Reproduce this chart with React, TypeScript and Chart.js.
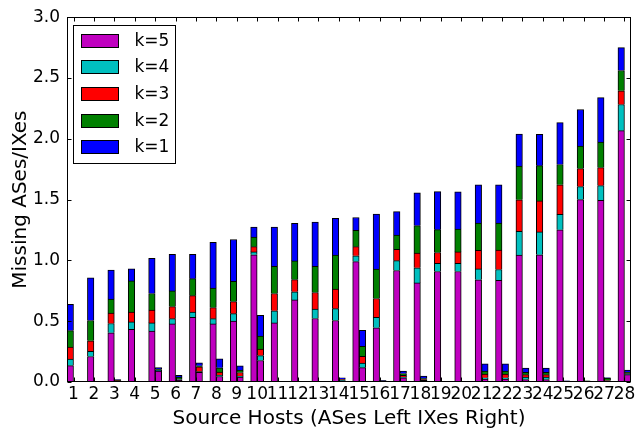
import React, { useEffect, useRef } from 'react';
import { Chart, registerables } from 'chart.js';

Chart.register(...registerables);

const hosts = ['1','2','3','4','5','6','7','8','9','10','11','12','13','14','15','16','17','18','19','20','21','22','23','24','25','26','27','28'];
const seriesLabels = ['k=5', 'k=4', 'k=3', 'k=2', 'k=1'];
const seriesColors = ['#bf00bf', '#00bfbf', '#ff0000', '#008000', '#0000ff'];
const yTickValues = [0, 0.5, 1, 1.5, 2, 2.5, 3];

// ASes (left bar of each host)
const asK5 = [0.135, 0.21, 0.405, 0.433, 0.419, 0.478, 0.532, 0.478, 0.5, 1.046, 0.486, 0.675, 0.522, 0.506, 0.99, 0.446, 0.917, 0.815, 0.909, 0.909, 0.841, 0.836, 1.043, 1.046, 1.252, 1.5, 1.494, 2.067];
const asK4 = [0.053, 0.043, 0.076, 0.061, 0.067, 0.043, 0.043, 0.043, 0.062, 0.024, 0.1, 0.067, 0.077, 0.097, 0.048, 0.086, 0.081, 0.124, 0.067, 0.067, 0.089, 0.089, 0.197, 0.188, 0.126, 0.107, 0.121, 0.215];
const asK3 = [0.1, 0.086, 0.085, 0.081, 0.105, 0.099, 0.135, 0.091, 0.099, 0.043, 0.142, 0.1, 0.137, 0.161, 0.075, 0.155, 0.094, 0.121, 0.089, 0.094, 0.153, 0.159, 0.258, 0.255, 0.244, 0.148, 0.148, 0.113];
const asK2 = [0.135, 0.167, 0.116, 0.256, 0.137, 0.129, 0.14, 0.161, 0.167, 0.079, 0.223, 0.154, 0.215, 0.28, 0.135, 0.242, 0.116, 0.226, 0.188, 0.188, 0.223, 0.223, 0.277, 0.29, 0.167, 0.185, 0.21, 0.167];
const asK1 = [0.215, 0.35, 0.239, 0.099, 0.29, 0.3, 0.2, 0.376, 0.344, 0.081, 0.323, 0.309, 0.364, 0.302, 0.105, 0.452, 0.193, 0.269, 0.312, 0.306, 0.315, 0.315, 0.264, 0.258, 0.344, 0.301, 0.366, 0.188];

// IXes (right bar of each host)
const ixK5 = [0.005, 0.005, 0.005, 0.005, 0.09, 0.015, 0.08, 0.045, 0.04, 0.177, 0.005, 0.005, 0.005, 0.01, 0.118, 0.005, 0.035, 0.013, 0.005, 0.005, 0.025, 0.025, 0.02, 0.02, 0.005, 0.005, 0.005, 0.06];
const ixK4 = [0, 0, 0.003, 0, 0.005, 0.005, 0.005, 0.01, 0.008, 0.04, 0, 0, 0, 0.005, 0.038, 0.002, 0.005, 0.005, 0, 0, 0.01, 0.01, 0.02, 0.02, 0, 0, 0.005, 0.01];
const ixK3 = [0, 0, 0.002, 0, 0.005, 0.005, 0.04, 0.027, 0.03, 0.054, 0, 0, 0, 0.005, 0.056, 0.001, 0.015, 0.005, 0, 0, 0.03, 0.03, 0.02, 0.02, 0, 0, 0.002, 0.005];
const ixK2 = [0, 0, 0.003, 0, 0.008, 0.015, 0.008, 0.035, 0.02, 0.107, 0, 0, 0, 0.005, 0.081, 0.001, 0.015, 0.005, 0, 0, 0.025, 0.025, 0.02, 0.02, 0, 0.005, 0.02, 0.005];
const ixK1 = [0, 0, 0.007, 0, 0.01, 0.015, 0.025, 0.073, 0.035, 0.17, 0, 0, 0, 0.01, 0.132, 0.002, 0.02, 0.02, 0, 0, 0.06, 0.06, 0.035, 0.035, 0.005, 0, 0.003, 0.017];

const FONT = "'DejaVu Sans', sans-serif";

const framePlugin = {
  id: 'mplFrame',
  afterDraw(chart: any) {
    const { ctx, chartArea } = chart;
    const { left, right, top, bottom } = chartArea;
    const x = chart.scales.x;
    const y = chart.scales.y;
    ctx.save();
    ctx.strokeStyle = '#000';
    ctx.lineWidth = 1;
    ctx.beginPath();
    const L = Math.round(left) + 0.5;
    const R = Math.round(right) - 0.5;
    const T = Math.round(top) + 0.5;
    const B = Math.round(bottom) - 0.5;
    yTickValues.forEach((v) => {
      const py = Math.round(y.getPixelForValue(v)) + 0.5;
      ctx.moveTo(L, py); ctx.lineTo(L + 4, py);
      ctx.moveTo(R, py); ctx.lineTo(R - 4, py);
    });
    hosts.forEach((_, i) => {
      const px = Math.round(x.getPixelForValue(i + 1)) + 0.5;
      ctx.moveTo(px, B); ctx.lineTo(px, B - 4);
      ctx.moveTo(px, T); ctx.lineTo(px, T + 4);
    });
    ctx.stroke();
    ctx.strokeRect(L, T, R - L, B - T);

    // legend
    const bx = Math.round(left + 6) + 0.5;
    const by = Math.round(top + 8) + 0.5;
    const bw = 102;
    const bh = 138;
    ctx.fillStyle = '#fff';
    ctx.fillRect(bx, by, bw, bh);
    ctx.strokeRect(bx, by, bw, bh);
    ctx.font = `17px ${FONT}`;
    ctx.textBaseline = 'middle';
    ctx.textAlign = 'left';
    for (let s = 0; s < 5; s++) {
      const ds = chart.data.datasets[s];
      const py = Math.round(by + 8 + s * 26.7) + 0.5;
      const px = bx + 8;
      ctx.fillStyle = ds.backgroundColor;
      ctx.fillRect(px, py, 37, 13);
      ctx.strokeRect(px, py, 37, 13);
      ctx.fillStyle = '#000';
      ctx.fillText(ds.label, bx + 61, py + 7);
    }
    ctx.restore();
  },
};

export default function App() {
  const ref = useRef<HTMLCanvasElement>(null);

  useEffect(() => {
    if (!ref.current) return;
    const asSeries = [asK5, asK4, asK3, asK2, asK1];
    const ixSeries = [ixK5, ixK4, ixK3, ixK2, ixK1];
    const datasets: any[] = [];
    seriesLabels.forEach((label, s) => {
      datasets.push({
        label,
        data: hosts.map((_, i) => ({ x: i + 1 - 0.16, y: asSeries[s][i] })),
        backgroundColor: seriesColors[s],
        borderColor: '#000',
        borderWidth: 1,
        stack: 'all',
        barThickness: 6.5,
      });
    });
    seriesLabels.forEach((label, s) => {
      datasets.push({
        label: label + ' IX',
        data: hosts.map((_, i) => ({ x: i + 1 + 0.16, y: ixSeries[s][i] })),
        backgroundColor: seriesColors[s],
        borderColor: '#000',
        borderWidth: 1,
        stack: 'all',
        barThickness: 6.5,
      });
    });

    const chart = new Chart(ref.current, {
      type: 'bar',
      data: { datasets },
      plugins: [framePlugin],
      options: {
        animation: false,
        responsive: false,
        devicePixelRatio: 1,
        layout: { padding: { left: 0, top: 10, right: 7, bottom: 0 } },
        plugins: { legend: { display: false }, tooltip: { enabled: false } },
        scales: {
          x: {
            type: 'linear',
            min: 0.68,
            max: 28.32,
            offset: false,
            stacked: true,
            grid: { display: false, drawTicks: false, tickLength: 0, offset: false },
            border: { display: false },
            afterBuildTicks: (axis: any) => {
              axis.ticks = hosts.map((_, i) => ({ value: i + 1 }));
            },
            afterFit: (axis: any) => { axis.height = 49; },
            ticks: {
              autoSkip: false,
              maxRotation: 0,
              padding: 2,
              color: '#000',
              font: { family: FONT, size: 17 },
              callback: (_v: any, idx: number) => hosts[idx],
            },
            title: {
              display: true,
              text: 'Source Hosts (ASes Left IXes Right)',
              color: '#000',
              font: { family: FONT, size: 20 },
              padding: { top: 0, bottom: 0 },
            },
          },
          y: {
            type: 'linear',
            min: 0,
            max: 3,
            stacked: true,
            grid: { display: false, drawTicks: false, tickLength: 0 },
            border: { display: false },
            afterBuildTicks: (axis: any) => {
              axis.ticks = yTickValues.map((v) => ({ value: v }));
            },
            afterFit: (axis: any) => { axis.width = 67; },
            ticks: {
              padding: 7,
              color: '#000',
              font: { family: FONT, size: 17 },
              callback: (v: any) => Number(v).toFixed(1),
            },
            title: {
              display: true,
              text: 'Missing ASes/IXes',
              color: '#000',
              font: { family: FONT, size: 20 },
              padding: { top: 9, bottom: 0 },
            },
          },
        },
      },
    });
    return () => chart.destroy();
  }, []);

  return (
    <div style={{ position: 'absolute', left: 0, top: 0, width: 638, height: 431, background: '#fff' }}>
      <canvas ref={ref} width={638} height={431} style={{ display: 'block' }} />
    </div>
  );
}
